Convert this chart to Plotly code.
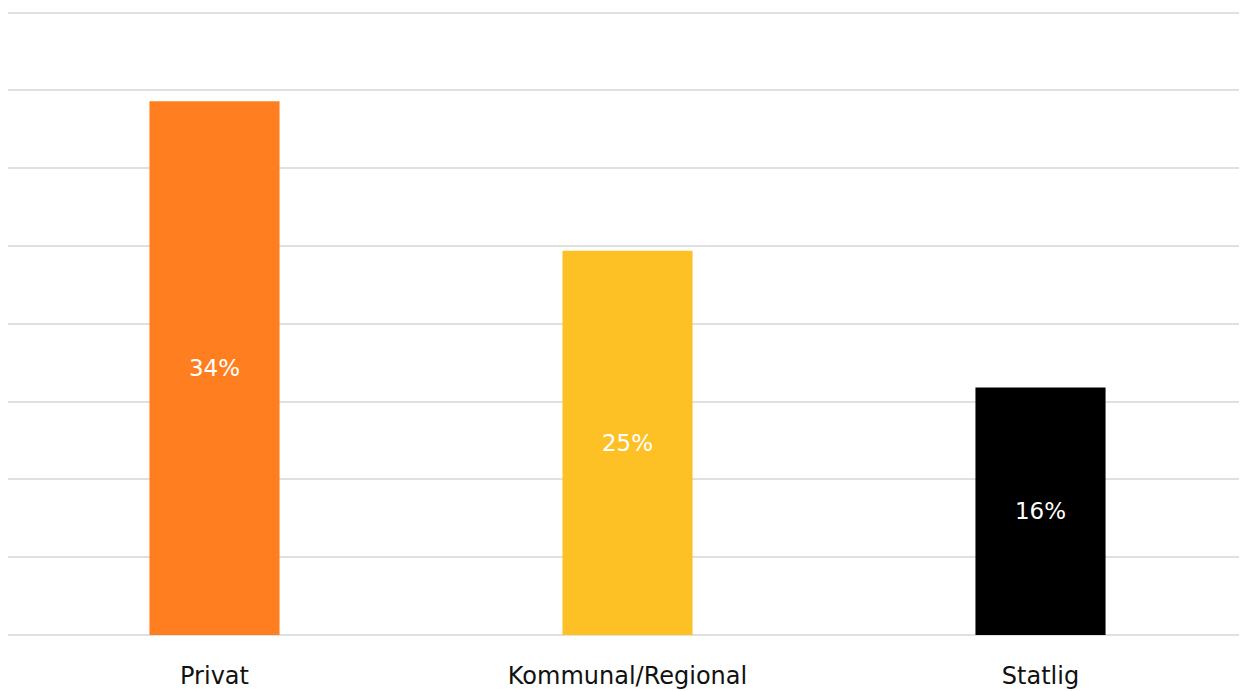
import plotly.graph_objects as go

categories = ["Privat", "Kommunal/Regional", "Statlig"]
values = [34.3, 24.7, 15.9]
labels = ["34%", "25%", "16%"]
colors = ["#FF7F20", "#FDC126", "#000000"]

fig = go.Figure(go.Bar(
    x=categories, y=values, text=labels,
    marker=dict(color=colors, line=dict(width=0)),
    textposition="inside", insidetextanchor="middle",
    textfont=dict(family="DejaVu Sans", size=23, color="white"),
    textangle=0, hoverinfo="skip",
))

fig.update_layout(
    width=1239, height=683,
    margin=dict(l=0, r=0, t=0, b=56),
    paper_bgcolor="white", plot_bgcolor="white",
    bargap=0.685, showlegend=False,
)
fig.update_yaxes(range=[0, 40.3], dtick=5, showticklabels=False,
                 gridcolor="#e0e0e0", gridwidth=2,
                 zeroline=True, zerolinecolor="#e0e0e0", zerolinewidth=2,
                 showline=False)
fig.update_xaxes(showgrid=False, showline=False, ticks="outside", ticklen=19,
                 tickcolor="rgba(0,0,0,0)",
                 tickfont=dict(family="DejaVu Sans", size=24, color="#111111"))

fig.write_html("out.html")
